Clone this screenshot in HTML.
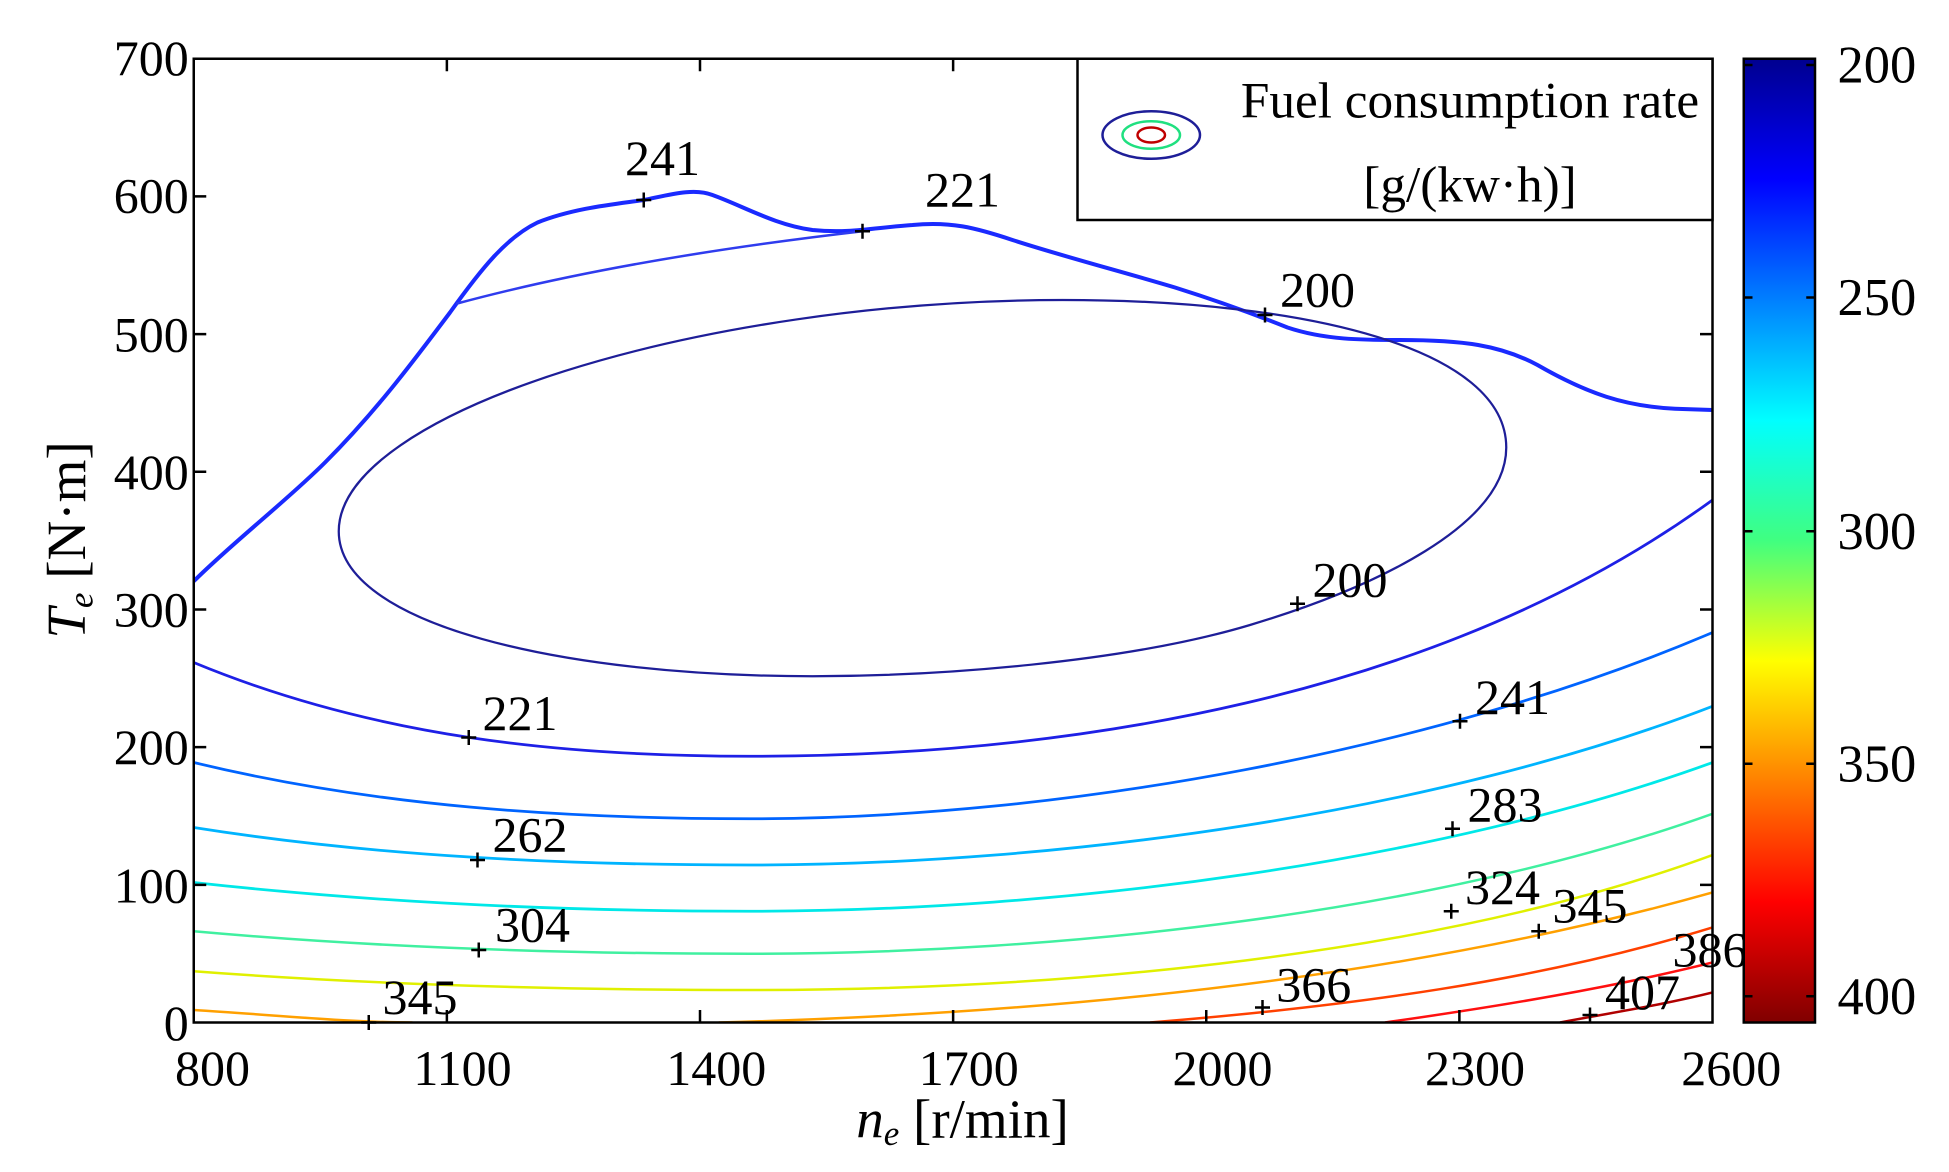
<!DOCTYPE html>
<html><head><meta charset="utf-8"><style>
html,body{margin:0;padding:0;background:#fff;}
svg{display:block}
text{font-family:"Liberation Serif",serif;fill:#000}
</style></head><body>
<svg width="1949" height="1172" viewBox="0 0 1559.2 937.6" xmlns="http://www.w3.org/2000/svg">
<defs>
<linearGradient id="jet" x1="0" y1="0" x2="0" y2="1">
<stop offset="0" stop-color="#00008f"/>
<stop offset="0.125" stop-color="#0000ff"/>
<stop offset="0.375" stop-color="#00ffff"/>
<stop offset="0.5" stop-color="#40ff80"/>
<stop offset="0.625" stop-color="#ffff00"/>
<stop offset="0.875" stop-color="#ff0000"/>
<stop offset="1" stop-color="#800000"/>
</linearGradient>
<clipPath id="ax"><rect x="155" y="47" width="1215" height="771"/></clipPath>
</defs>
<g clip-path="url(#ax)" fill="none">
<path d="M155,465 C185,435 230,400 260,370 C300,330 330,290 360,250 C385,215 405,190 430,178 C460,166 495,163 515,160 C535,156 555,150 570,156 C595,165 620,180 650,184 C680,187 700,182 730,180 C760,177 780,182 810,192 C850,205 900,218 940,230 C975,241 1000,250 1030,262 C1060,272 1090,272 1120,272 C1170,272 1200,276 1230,292 C1270,315 1300,325 1340,327 L1370,328" stroke="#1a2aff" stroke-width="3.2"/>
<path d="M365,243 C450,220 560,200 690,185" stroke="#2f3cee" stroke-width="2"/>
<path d="M271,425 C271,330 560,240 850,240 C1050,240 1205,280 1205,358 C1205,420 1100,470 1000,500 C900,530 750,541 650,541 C450,541 271,500 271,425 Z" stroke="#1e1e98" stroke-width="1.8"/>
<path d="M155,530 C300,590 450,605 600,605 C850,605 1150,560 1370,400" stroke="#1e20e6" stroke-width="2.2"/>
<path d="M155,610 C300,645 450,655 600,655 C850,655 1150,600 1370,506" stroke="#0064ff" stroke-width="2.2"/>
<path d="M155,662 C300,685 450,692 600,692 C850,692 1150,650 1370,565" stroke="#00b4ff" stroke-width="2.2"/>
<path d="M155,706 C300,722 450,729 600,729 C850,729 1150,690 1370,610" stroke="#00e8e8" stroke-width="2.2"/>
<path d="M155,745 C300,758 450,763 600,763 C850,763 1150,730 1370,651" stroke="#40f0a0" stroke-width="2"/>
<path d="M155,777 C300,788 450,792 600,792 C850,792 1150,765 1370,684" stroke="#e0f000" stroke-width="2"/>
<path d="M155,808 C220,812 280,818 330,818" stroke="#ffa000" stroke-width="2"/>
<path d="M575,818 C800,812 1100,790 1370,714" stroke="#ffa000" stroke-width="2"/>
<path d="M920,818 C1080,805 1230,785 1370,742" stroke="#ff4000" stroke-width="2"/>
<path d="M1108,818 C1200,805 1290,790 1370,770" stroke="#ff1010" stroke-width="2"/>
<path d="M1248,818 C1290,810 1330,804 1370,794" stroke="#b00000" stroke-width="2"/>
</g>
<g stroke="#000" stroke-width="2" fill="none">
<rect x="155" y="47" width="1215" height="771"/>
<path d="M357.5,818v-10M560,818v-10M762.5,818v-10M965,818v-10M1167.5,818v-10M357.5,47v10M560,47v10M762.5,47v10M965,47v10M1167.5,47v10M155,707.9h10M155,597.7h10M155,487.6h10M155,377.4h10M155,267.3h10M155,157.1h10M1370,707.9h-10M1370,597.7h-10M1370,487.6h-10M1370,377.4h-10M1370,267.3h-10M1370,157.1h-10"/>
<path d="M289,818h12M295,812v12M509,160h12M515,154v12M684,185h12M690,179v12M1006,252h12M1012,246v12M1032,483h12M1038,477v12M369,590h12M375,584v12M376,688h12M382,682v12M377,760h12M383,754v12M1162,577h12M1168,571v12M1156,663h12M1162,657v12M1155,729h12M1161,723v12M1225,745h12M1231,739v12M1004,806h12M1010,800v12M1266,812h12M1272,806v12"/>
</g>
<rect x="862" y="47" width="508" height="129" fill="#fff" stroke="#000" stroke-width="2"/>
<ellipse cx="921" cy="108" rx="39" ry="19" fill="none" stroke="#1e1e98" stroke-width="2"/>
<ellipse cx="921" cy="108" rx="23" ry="11" fill="none" stroke="#20e080" stroke-width="2"/>
<ellipse cx="921" cy="108" rx="11" ry="6" fill="none" stroke="#c00000" stroke-width="2"/>
<text x="1176" y="94" font-size="41" text-anchor="middle">Fuel consumption rate</text>
<text x="1176" y="161" font-size="41" text-anchor="middle">[g/(kw·h)]</text>
<g font-size="40">
<text x="500" y="140">241</text><text x="740" y="165">221</text><text x="1024" y="245">200</text><text x="1050" y="477">200</text>
<text x="386" y="584">221</text><text x="1180" y="571">241</text><text x="394" y="681">262</text><text x="1174" y="657">283</text>
<text x="396" y="753">304</text><text x="1172" y="723">324</text><text x="1242" y="738">345</text><text x="306" y="811">345</text>
<text x="1021" y="801">366</text><text x="1338" y="773">386</text><text x="1284" y="807">407</text>
</g>
<g font-size="40" text-anchor="end">
<text x="151" y="60">700</text><text x="151" y="170">600</text><text x="151" y="281">500</text><text x="151" y="391">400</text>
<text x="151" y="501">300</text><text x="151" y="611">200</text><text x="151" y="722">100</text><text x="151" y="832">0</text>
</g>
<g font-size="40" text-anchor="middle">
<text x="170" y="868">800</text><text x="370" y="868">1100</text><text x="573" y="868">1400</text><text x="775" y="868">1700</text>
<text x="978" y="868">2000</text><text x="1180" y="868">2300</text><text x="1385" y="868">2600</text>
</g>
<text x="770" y="910" font-size="44" text-anchor="middle"><tspan font-style="italic">n</tspan><tspan font-style="italic" font-size="28" dy="6">e</tspan><tspan dy="-6"> [r/min]</tspan></text>
<text transform="translate(68,432) rotate(-90)" font-size="44" text-anchor="middle"><tspan font-style="italic">T</tspan><tspan font-style="italic" font-size="28" dy="6">e</tspan><tspan dy="-6"> [N·m]</tspan></text>
<rect x="1395" y="47" width="57" height="771" fill="url(#jet)" stroke="#000" stroke-width="2"/>
<g stroke="#000" stroke-width="2">
<path d="M1395,52h7M1452,52h-7M1395,238h7M1452,238h-7M1395,425h7M1452,425h-7M1395,611h7M1452,611h-7M1395,797h7M1452,797h-7"/>
</g>
<g font-size="42">
<text x="1470" y="66">200</text><text x="1470" y="252">250</text><text x="1470" y="439">300</text><text x="1470" y="625">350</text><text x="1470" y="811">400</text>
</g>
</svg>
</body></html>
